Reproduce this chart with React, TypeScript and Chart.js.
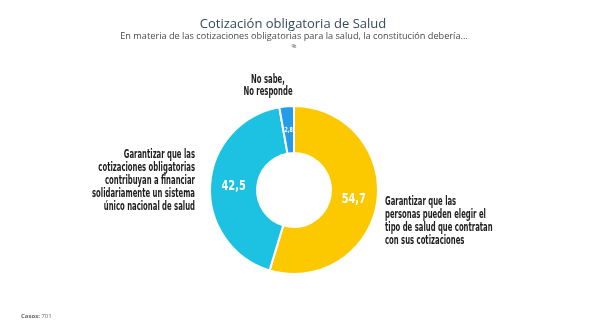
import React, { useEffect, useRef } from "react";
import { Chart, registerables } from "chart.js";

Chart.register(...registerables);

const categories = [
  "Garantizar que las personas pueden elegir el tipo de salud que contratan con sus cotizaciones",
  "Garantizar que las cotizaciones obligatorias contribuyan a financiar solidariamente un sistema único nacional de salud",
  "No sabe, No responde",
];
const values = [54.7, 42.5, 2.8];
const valueLabels = ["54,7", "42,5", "2,8"];
const colors = ["#FCC900", "#1DC2E3", "#249CEA"];

const labelLines: string[][] = [
  ["Garantizar que las", "personas pueden elegir el", "tipo de salud que contratan", "con sus cotizaciones"],
  ["Garantizar que las", "cotizaciones obligatorias", "contribuyan a financiar", "solidariamente un sistema", "único nacional de salud"],
  ["No sabe,", "No responde"],
];

const titleText = "Cotización obligatoria de Salud";
const subtitleText = "En materia de las cotizaciones obligatorias para la salud, la constitución debería...";
const unitText = "%";
const casosLabel = "Casos:";
const casosValue = "701";

const COND = "bold 11.5px 'DejaVu Sans Condensed', 'DejaVu Sans', sans-serif";

function drawScaled(ctx: CanvasRenderingContext2D, text: string, x: number, y: number, align: CanvasTextAlign, sx: number) {
  ctx.save();
  ctx.translate(x, y);
  ctx.scale(sx, 1);
  ctx.textAlign = align;
  ctx.fillText(text, 0, 0);
  ctx.restore();
}

const textPlugin = {
  id: "textPlugin",
  afterDraw(chart: any) {
    const ctx: CanvasRenderingContext2D = chart.ctx;
    ctx.save();
    ctx.textBaseline = "middle";

    // Title
    ctx.fillStyle = "#34495E";
    ctx.font = "13px 'Open Sans', sans-serif";
    ctx.textAlign = "center";
    ctx.fillText(titleText, 293, 24);
    ctx.fillStyle = "#4a4a4a";
    ctx.font = "9.2px 'Open Sans', sans-serif";
    ctx.fillText(subtitleText, 294, 36);
    ctx.font = "6px 'Open Sans', sans-serif";
    ctx.fillText(unitText, 294, 46);

    // Labels
    ctx.font = COND;
    const sx = 103 / ctx.measureText("solidariamente un sistema").width;
    ctx.fillStyle = "#1e1e1e";
    const lh = 13;
    labelLines[0].forEach((l, i) => drawScaled(ctx, l, 385, 202 + i * lh, "left", sx));
    labelLines[1].forEach((l, i) => drawScaled(ctx, l, 195, 155 + i * lh, "right", sx));
    labelLines[2].forEach((l, i) => drawScaled(ctx, l, 268, 80 + i * 12, "center", sx));

    // Values
    const meta = chart.getDatasetMeta(0);
    meta.data.forEach((arc: any, i: number) => {
      const p = arc.tooltipPosition();
      ctx.fillStyle = "#ffffff";
      ctx.font = i === 2 ? "bold 7px 'DejaVu Sans Condensed', sans-serif" : "bold 14px 'DejaVu Sans Condensed', sans-serif";
      drawScaled(ctx, valueLabels[i], p.x, p.y, "center", i === 2 ? 0.75 : 0.78);
    });

    // Casos
    ctx.textAlign = "left";
    ctx.fillStyle = "#666";
    ctx.font = "bold 6px 'Open Sans', sans-serif";
    ctx.fillText(casosLabel, 21, 316);
    const w = ctx.measureText(casosLabel + " ").width;
    ctx.font = "6px 'Open Sans', sans-serif";
    ctx.fillText(casosValue, 21 + w, 316);
    ctx.restore();
  },
};

export default function App() {
  const ref = useRef<HTMLCanvasElement | null>(null);
  useEffect(() => {
    document.body.style.margin = "0";
    const chart = new Chart(ref.current!, {
      type: "doughnut",
      data: {
        labels: categories,
        datasets: [
          {
            data: values,
            backgroundColor: colors,
            borderColor: "#ffffff",
            borderWidth: 2,
          },
        ],
      },
      options: {
        responsive: false,
        animation: false,
        devicePixelRatio: 1,
        cutout: "44%",
        layout: { padding: { left: 209, right: 210, top: 105, bottom: 56 } },
        plugins: {
          legend: { display: false },
          tooltip: { enabled: false },
          title: { display: false },
        },
      },
      plugins: [textPlugin],
    });
    return () => chart.destroy();
  }, []);
  return (
    <div style={{ position: "fixed", left: 0, top: 0, width: 589, height: 331, background: "#fff" }}>
      <canvas ref={ref} width={589} height={331} />
    </div>
  );
}
